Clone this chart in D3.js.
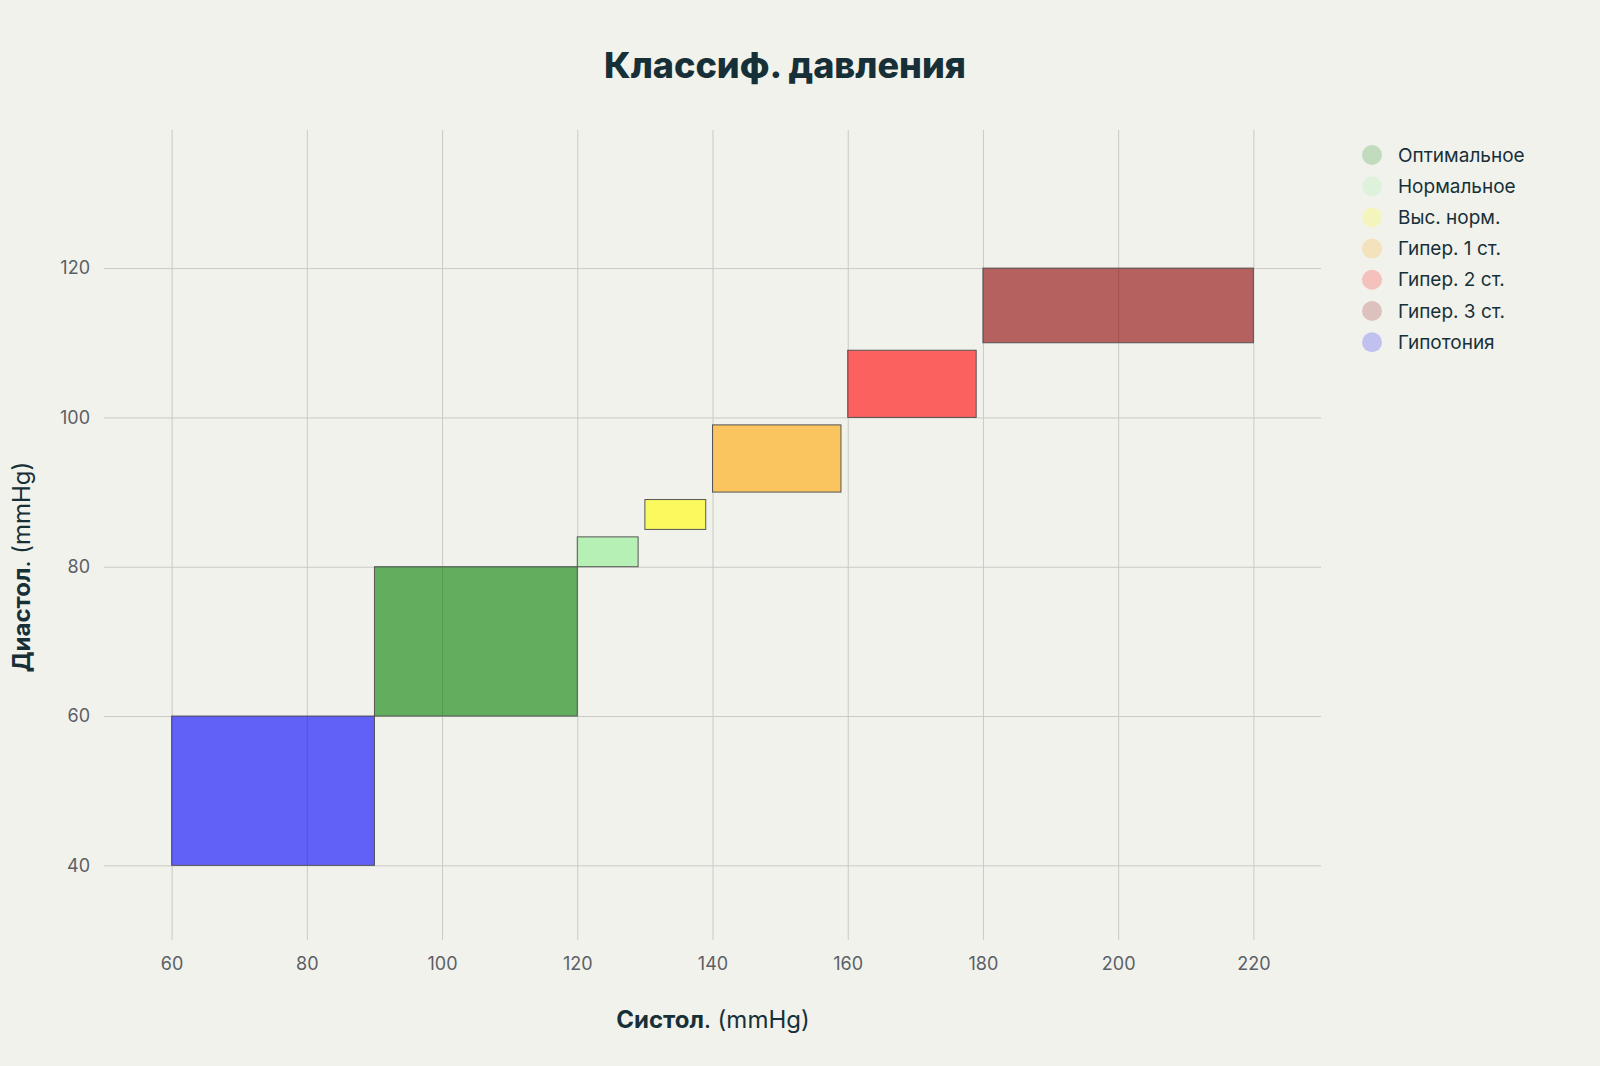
<!DOCTYPE html>
<html><head><meta charset="utf-8">
<script src="https://cdn.jsdelivr.net/npm/d3@7"></script>
<style>body{margin:0;background:#f2f2ed;font-family:Inter,"Noto Sans",sans-serif}</style>
</head><body>
<svg id="c" width="1600" height="1066"></svg>
<script>
const categories = ["Оптимальное","Нормальное","Выс. норм.","Гипер. 1 ст.","Гипер. 2 ст.","Гипер. 3 ст.","Гипотония"];
const sysMin = [90,120,130,140,160,180,60];
const sysMax = [120,129,139,159,179,220,90];
const diaMin = [60,80,85,90,100,110,40];
const diaMax = [80,84,89,99,109,120,60];
const colors = ["green","lightgreen","yellow","orange","red","darkred","blue"];
const xTicks = [60,80,100,120,140,160,180,200,220];
const yTicks = [40,60,80,100,120];

const svg = d3.select("#c");
svg.append("rect").attr("width",1600).attr("height",1066).attr("fill","#f2f2ed");
const x = d3.scaleLinear().domain([50,230]).range([104,1321]);
const y = d3.scaleLinear().domain([30,138.5]).range([940,130]);

const gx = svg.append("g").attr("transform","translate(0,940)")
  .call(d3.axisBottom(x).tickValues(xTicks).tickSize(-810).tickPadding(14));
const gy = svg.append("g").attr("transform","translate(104,0)")
  .call(d3.axisLeft(y).tickValues(yTicks).tickSize(-1217).tickPadding(14));
[gx,gy].forEach(g=>{
  g.select(".domain").remove();
  g.selectAll("line").attr("stroke","#c9cac4").attr("stroke-width",1);
  g.selectAll("text").attr("fill","#5a6066").attr("font-size",18).attr("font-family","Inter,sans-serif");
});
gx.selectAll("text").attr("dy","0.9em");

const data = categories.map((c,i)=>({c,i}));
const drawOrder = [6,0,1,2,3,4,5];
svg.append("g").selectAll("rect").data(drawOrder.map(i=>data[i])).join("rect")
  .attr("x",d=>x(sysMin[d.i])).attr("width",d=>x(sysMax[d.i])-x(sysMin[d.i]))
  .attr("y",d=>y(diaMax[d.i])).attr("height",d=>y(diaMin[d.i])-y(diaMax[d.i]))
  .attr("fill",d=>colors[d.i]).attr("fill-opacity",0.6)
  .attr("stroke","#555").attr("stroke-width",1);

svg.append("text").attr("x",785).attr("y",78).attr("text-anchor","middle")
  .attr("font-size",36).attr("font-weight",800).attr("fill","#173038").text("Классиф. давления");

const xt = svg.append("text").attr("x",713).attr("y",1028).attr("text-anchor","middle").attr("font-size",24).attr("fill","#173038");
xt.append("tspan").attr("font-weight",700).text("Систол");
xt.append("tspan").text(". (mmHg)");
const yt = svg.append("text").attr("transform","translate(30,567) rotate(-90)").attr("text-anchor","middle").attr("font-size",24).attr("fill","#173038");
yt.append("tspan").attr("font-weight",700).text("Диастол");
yt.append("tspan").text(". (mmHg)");

const lg = svg.append("g").selectAll("g").data(data).join("g")
  .attr("transform",(d,i)=>`translate(1372,${155+i*31.2})`);
lg.append("circle").attr("r",10).attr("fill",d=>colors[d.i]).attr("fill-opacity",0.2);
lg.append("text").attr("x",26).attr("dy","0.35em").attr("font-size",19).attr("fill","#173038").text(d=>d.c);
</script>
</body></html>
